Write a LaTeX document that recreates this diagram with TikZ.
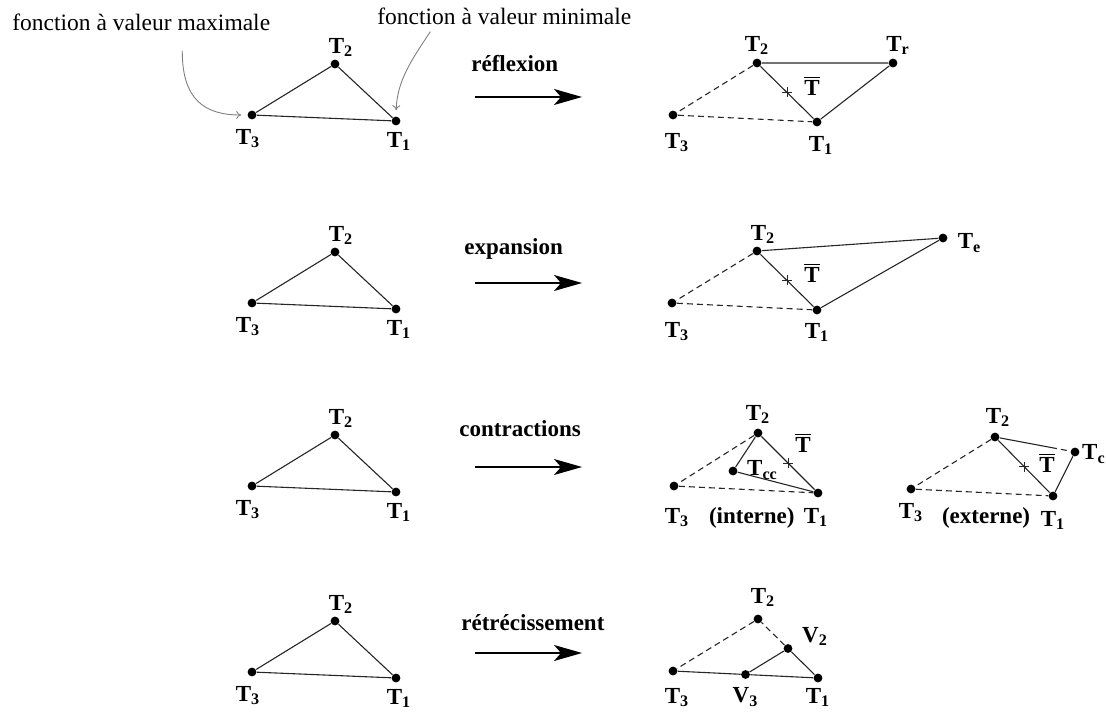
\documentclass[tikz,border=0pt]{standalone}
\usepackage{fontspec}
\setmainfont{Liberation Serif}
\usetikzlibrary{arrows.meta}
\usetikzlibrary{calc}
\usetikzlibrary{positioning}

\newcommand{\Tl}[1]{T\textsubscript{#1}}
\newcommand{\Tbar}{$\overline{\hbox{T}}$}

\tikzset{
    dot/.style={circle,fill=black,inner sep=0pt,minimum size=4.4pt},
    lab/.style={font=\fontsize{11.5}{13}\selectfont\bfseries,inner sep=0.5pt},
    side/.style={line width=0.55pt,black!85},
    old/.style={side,dash pattern=on 3pt off 2pt},
    go/.style={line width=0.7pt,-{Stealth[length=14pt,width=8pt,inset=3.5pt]}},
    note/.style={font=\fontsize{11.75}{14}\selectfont,inner sep=0pt},
    hint/.style={black!50,line width=0.45pt,-{To[length=2.5pt,width=4pt]}},
    plusmark/.style={line width=0.4pt,black!85}
}

\begin{document}
\begin{tikzpicture}[x=0.5pt,y=-0.5pt]
        \useasboundingbox (0,0) rectangle (1106,715);

        % triangles de depart, fleches et noms des etapes
        \foreach \r/\yy/\tx/\ty/\ay/\what in {1/115/470/72/97/réflexion,2/303/463/255/283/expansion,3/486/458/437/467/contractions,4/672/460/630/653/rétrécissement} {
            \node[dot] (a\r3) at (252,\yy) {};
            \node[dot] (a\r2) at (335,\yy-51) {};
            \node[dot] (a\r1) at (396,\yy+6) {};
            \draw[side] (a\r3) -- (a\r2) -- (a\r1) -- (a\r3);
            \node[lab,below=4pt of a\r3,xshift=-2pt] (n\r3) {\Tl{3}};
            \node[lab,above=0.5pt of a\r2,xshift=3pt] (n\r2) {\Tl{2}};
            \node[lab,below=2.5pt of a\r1,xshift=1.5pt] (n\r1) {\Tl{1}};
            \node[lab,anchor=base west] (s\r) at (\tx,\ty) {\what};
            \coordinate (p\r) at (475,\ay);
            \coordinate (q\r) at (582,\ay);
            \draw[go] (p\r) -- (q\r);
        }

        % valeurs extremes
        \node[note,anchor=base west] (maxi) at (12,31) {fonction à valeur maximale};
        \node[note,anchor=base west] (mini) at (377,25) {fonction à valeur minimale};
        \draw[hint,shorten >=3pt] ([shift={(41,19)}]maxi.south) .. controls (182,100) and (205,115) .. (a13.west);
        \draw[hint,shorten >=3pt] ([shift={(-74,6)}]mini.south) .. controls (413,58) and (397,80) .. (a11.north);

        % reflexion
        \node[dot] (r13) at (673,115) {};
        \node[dot] (r12) at (757,63) {};
        \node[dot] (r11) at (817,122) {};
        \node[dot] (rr) at (893,63) {};
        \draw[old] (r12) -- (r13) -- (r11);
        \draw[side] (r12) -- (rr) -- (r11) -- (r12);
        \coordinate (g1) at ($(r12)!0.5!(r11)$);
        \draw[plusmark] (g1) +(-5,0) -- +(5,0) +(0,-5) -- +(0,5);
        \node[lab] (h1) at ([shift={(25,-7)}]g1) {\Tbar};
        \node[lab,above=1pt of r12] (m12) {\Tl{2}};
        \node[lab,above=1pt of rr,xshift=2.5pt] (mr) {\Tl{r}};
        \node[lab,below=6pt of r13,xshift=2pt] (m13) {\Tl{3}};
        \node[lab,below=4pt of r11,xshift=2pt] (m11) {\Tl{1}};

        % expansion
        \node[dot] (e3) at (672,303) {};
        \node[dot] (e2) at (757,251) {};
        \node[dot] (e1) at (817,310) {};
        \node[dot] (ee) at (943,238) {};
        \draw[old] (e2) -- (e3) -- (e1);
        \draw[side] (e2) -- (ee) -- (e1) -- (e2);
        \coordinate (g2) at ($(e2)!0.5!(e1)$);
        \draw[plusmark] (g2) +(-5,0) -- +(5,0) +(0,-5) -- +(0,5);
        \node[lab] (h2) at ([shift={(25,-8)}]g2) {\Tbar};
        \node[lab,above=0.5pt of e2,xshift=3pt] (f2) {\Tl{2}};
        \node[lab,right=4.3pt of ee,yshift=-2.5pt] (fe) {\Tl{e}};
        \node[lab,below=6.5pt of e3,xshift=2.5pt] (f3) {\Tl{3}};
        \node[lab,below=3.5pt of e1] (f1) {\Tl{1}};

        % contraction interne
        \node[dot] (i3) at (674,486) {};
        \node[dot] (i2) at (758,433) {};
        \node[dot] (i1) at (818,493) {};
        \node[dot] (icc) at (733,471) {};
        \draw[old] (i2) -- (i3) -- (i1);
        \draw[side] (i2) -- (i1) -- (icc) -- (i2);
        \coordinate (g3) at ($(i2)!0.5!(i1)$);
        \draw[plusmark] (g3) +(-5,0) -- +(5,0) +(0,-5) -- +(0,5);
        \node[lab] (h3) at ([shift={(15,-20)}]g3) {\Tbar};
        \node[lab,above=1.5pt of i2] (j2) {\Tl{2}};
        \node[lab,right=4pt of icc,yshift=0.5pt] (jcc) {\Tl{cc}};
        \node[lab,below=8pt of i3,xshift=1.5pt] (j3) {\Tl{3}};
        \node[lab,below=4.5pt of i1,xshift=-1pt] (j1) {\Tl{1}};
        \node[lab,base right=8.5pt of j3] (jin) {(interne)};

        % contraction externe
        \node[dot] (x3) at (911,489) {};
        \node[dot] (x2) at (995,437) {};
        \node[dot] (x1) at (1053,496) {};
        \node[dot] (xc) at (1075,452) {};
        \coordinate (xm) at ($(x2)!0.7!(xc)$);
        \draw[old] (x2) -- (x3) -- (x1);
        \draw[side] (x2) -- (x1) -- (xc);
        \draw[side] (x2) -- (xm);
        \draw[old] (xm) -- (xc);
        \coordinate (g4) at ($(x2)!0.5!(x1)$);
        \draw[plusmark] (g4) +(-5,0) -- +(5,0) +(0,-5) -- +(0,5);
        \node[lab] (h4) at ([shift={(23,-4)}]g4) {\Tbar};
        \node[lab,above=2pt of x2,xshift=1.5pt] (y2) {\Tl{2}};
        \node[lab,right=0.5pt of xc,yshift=-1pt] (yc) {\Tl{c}};
        \node[lab,below=4pt of x3] (y3) {\Tl{3}};
        \node[lab,below=4.5pt of x1] (y1) {\Tl{1}};
        \node[lab,base right=8pt of y3,yshift=-2.5pt] (yex) {(externe)};

        % retrecissement
        \node[dot] (s3) at (673,671) {};
        \node[dot] (s2) at (758,619) {};
        \node[dot] (s1) at (818,678) {};
        \node[dot] (v2) at ($(s2)!0.5!(s1)$) {};
        \node[dot] (v3) at ($(s3)!0.5!(s1)$) {};
        \draw[old] (v2) -- (s2) -- (s3);
        \draw[side] (s3) -- (v3) -- (s1) -- (v2) -- (v3);
        \node[lab,above=3pt of s2,xshift=2.5pt] (u2) {\Tl{2}};
        \node[lab,right=4pt of v2,yshift=6pt] (w2) {V\textsubscript{2}};
        \node[lab,below=5.5pt of s3,xshift=2pt] (u3) {\Tl{3}};
        \node[lab,below=3.5pt of v3] (w3) {V\textsubscript{3}};
        \node[lab,below=2pt of s1] (u1) {\Tl{1}};
    \end{tikzpicture}
\end{document}
